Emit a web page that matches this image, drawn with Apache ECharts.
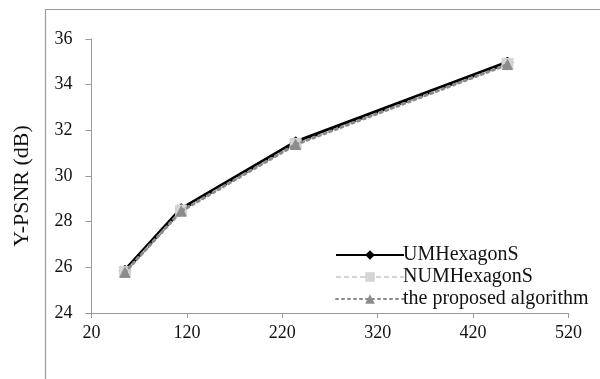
<!DOCTYPE html>
<html>
<head>
<meta charset="utf-8">
<script src="https://cdn.jsdelivr.net/npm/echarts@6/dist/echarts.min.js"></script>
<style>html,body{margin:0;padding:0;background:#fff}#c{width:600px;height:379px}</style>
</head>
<body>
<div id="c"></div>
<script>
var seriesNames = ['UMHexagonS', 'NUMHexagonS', 'the proposed algorithm'];
var bitrates = [55, 114, 234, 456];
var umhex = [25.85, 28.55, 31.48, 34.97];
var numhex = [25.80, 28.49, 31.41, 34.91];
var proposed = [25.78, 28.46, 31.38, 34.88];
var xTicks = [20, 120, 220, 320, 420, 520];
var yTicks = [24, 26, 28, 30, 32, 34, 36];
var yTitle = 'Y-PSNR (dB)';

function pairs(ys) { return bitrates.map(function (x, i) { return [x, ys[i]]; }); }

var font = 'Liberation Serif, Times New Roman, serif';
var chart = echarts.init(document.getElementById('c'), null, {renderer: 'canvas'});
chart.setOption({
  animation: false,
  graphic: [{
    type: 'rect', silent: true,
    shape: {x: 45.5, y: 9.5, width: 700, height: 500},
    style: {fill: 'none', stroke: '#9a9a9a', lineWidth: 1.2}
  }, {
    type: 'text', silent: true, x: 22, y: 186, rotation: Math.PI / 2,
    style: {text: yTitle, fill: '#111', font: '22px ' + font, align: 'center', verticalAlign: 'middle'}
  }],
  grid: {left: 91.5, right: 31.5, top: 39, bottom: 66, containLabel: false},
  xAxis: {
    type: 'value', min: 20, max: 520,
    axisLine: {lineStyle: {color: '#9a9a9a', width: 1}},
    axisTick: {show: true, length: 5, lineStyle: {color: '#9a9a9a'}, customValues: xTicks},
    axisLabel: {customValues: xTicks, color: '#111', fontFamily: font, fontSize: 18, margin: 11},
    splitLine: {show: false}
  },
  yAxis: {
    type: 'value', min: 24, max: 36, interval: 2,
    axisLine: {show: true, lineStyle: {color: '#9a9a9a', width: 1}},
    axisTick: {show: true, length: 6, lineStyle: {color: '#9a9a9a'}, customValues: yTicks},
    axisLabel: {customValues: yTicks, color: '#111', fontFamily: font, fontSize: 18, margin: 19},
    splitLine: {show: false}
  },
  legend: {
    orient: 'vertical', left: 330, top: 240, itemWidth: 68, itemHeight: 12, itemGap: 2,
    textStyle: {color: '#111', fontFamily: font, fontSize: 20, lineHeight: 20, padding: [0, 0, 0, -6]},
    data: seriesNames
  },
  series: [
    {
      name: seriesNames[0], type: 'line', data: pairs(umhex), z: 2,
      symbol: 'diamond', symbolSize: 11, showSymbol: true,
      lineStyle: {color: '#000', width: 4},
      itemStyle: {color: '#000', borderColor: '#000'}
    },
    {
      name: seriesNames[1], type: 'line', data: pairs(numhex), z: 3,
      symbol: 'rect', symbolSize: 11,
      lineStyle: {color: '#d4d4d4', width: 1.5, type: [5, 3]},
      itemStyle: {color: '#d4d4d4', borderColor: '#d4d4d4'}
    },
    {
      name: seriesNames[2], type: 'line', data: pairs(proposed), z: 4,
      symbol: 'triangle', symbolSize: 10,
      lineStyle: {color: '#8c8c8c', width: 3, type: [2, 4], cap: 'round'},
      itemStyle: {color: '#8c8c8c', borderColor: '#8c8c8c'}
    }
  ]
});
</script>
</body>
</html>
